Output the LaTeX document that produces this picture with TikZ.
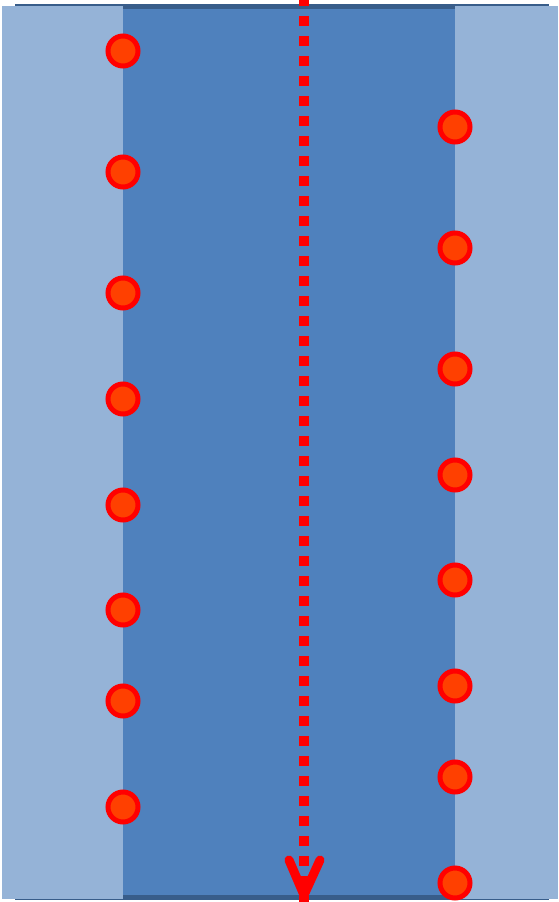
\documentclass[tikz,border=0pt]{standalone}
\definecolor{mainblue}{HTML}{4F81BD}
\definecolor{edgeblue}{HTML}{385D8A}
\definecolor{lightblue}{HTML}{95B3D7}
\definecolor{dotfill}{HTML}{FF4000}
\tikzset{
  particle/.style={circle, draw=red, fill=dotfill, line width=5pt, minimum size=30pt, inner sep=0pt},
  flowline/.style={draw=red, line width=10pt, dash pattern=on 10pt off 10pt},
  flowhead/.style={draw=red, line width=9pt, line cap=round, line join=round}
}
\begin{document}
\begin{tikzpicture}[x=1pt,y=-1pt]
\useasboundingbox (0,0) rectangle (558,902);
% channel
\draw[edgeblue, fill=mainblue, line width=5pt] (17.5,6.5) rectangle (546,897.5);
% walls
\fill[lightblue] (2,6) rectangle (123,899);
\fill[lightblue] (455,6) rectangle (558,899);
% left particles
\foreach \y [count=\i] in {51,172,293,399,505,610,701,807}
  \node[particle] (L\i) at (123,\y) {};
% right particles
\foreach \y [count=\i] in {127,248,369,475,580,686,777,883}
  \node[particle] (R\i) at (455,\y) {};
% flow
\coordinate (fstart) at (304,-4);
\coordinate (fend) at (304,906);
\coordinate (tip) at (304,895);
\coordinate (armL) at (289,860);
\coordinate (armR) at (320,860);
\draw[flowline] (fstart) -- (fend);
\draw[flowhead] (armL) -- (tip) -- (armR);
\end{tikzpicture}
\end{document}
